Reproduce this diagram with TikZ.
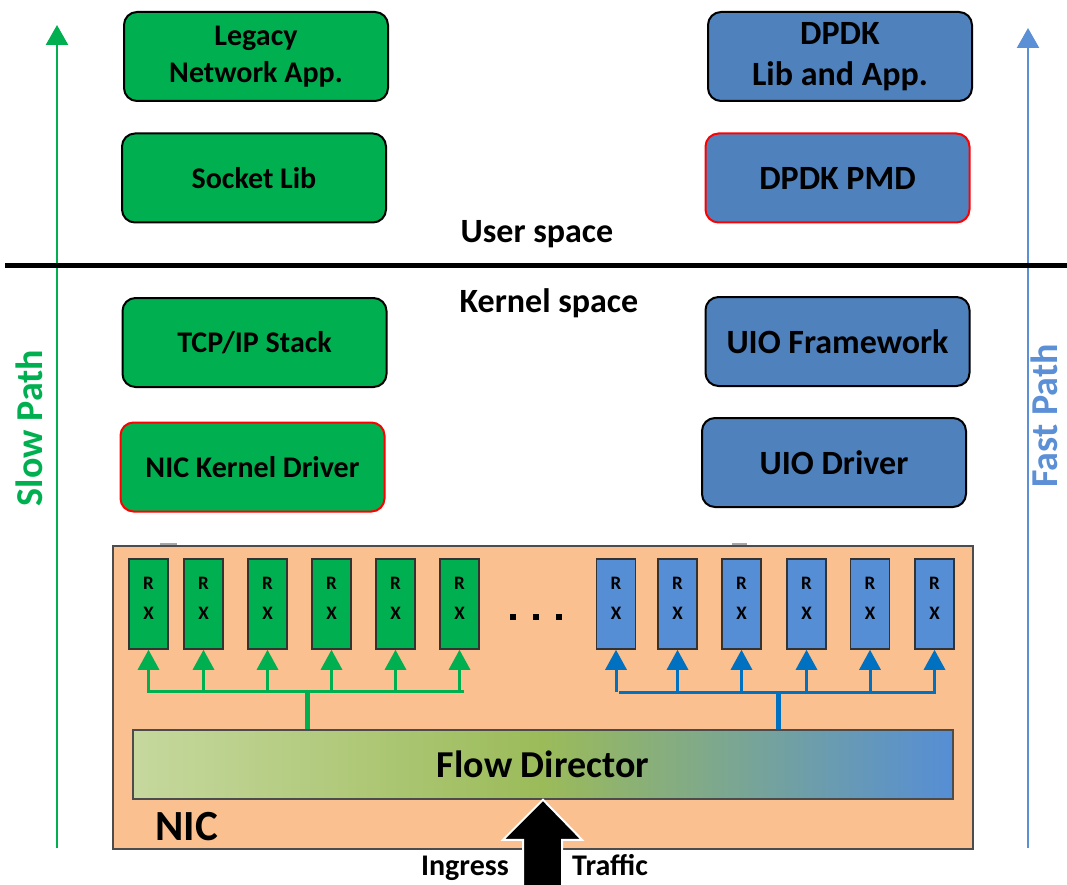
\documentclass[tikz,border=0pt]{standalone}
\usepackage{fontspec}
\setmainfont{Carlito}
\usetikzlibrary{arrows.meta,calc}

\definecolor{boxgreen}{HTML}{00B050}
\definecolor{boxblue}{HTML}{4F81BD}
\definecolor{rxblue}{HTML}{558ED5}
\definecolor{busblue}{HTML}{0070C0}
\definecolor{nicfill}{HTML}{FAC090}
\definecolor{fastblue}{HTML}{5B8FD6}
\definecolor{fdleft}{HTML}{C6D89E}
\definecolor{fdmid}{HTML}{9BBB59}
\definecolor{fdright}{HTML}{558ED5}

\tikzset{
  layer/.style={draw=black, line width=2pt, rounded corners=13pt,
    minimum width=264pt, minimum height=89pt, inner sep=0pt,
    align=center},
  greenbox/.style={layer, fill=boxgreen, font=\fontsize{30}{37}\selectfont\bfseries},
  bluebox/.style={layer, fill=boxblue, font=\fontsize{34}{41}\selectfont\bfseries},
  hot/.style={draw=red},
  rxq/.style={draw=black!80, line width=1.5pt, minimum width=39pt,
    minimum height=90pt, inner sep=0pt},
  rxtext/.style={align=center, inner sep=0pt, font=\fontsize{19}{30}\selectfont\bfseries},
  grx/.style={rxq, fill=boxgreen},
  brx/.style={rxq, fill=rxblue},
  gbus/.style={draw=boxgreen, line width=3pt},
  bbus/.style={draw=busblue, line width=3pt},
  garrow/.style={gbus, -{Triangle[length=20pt,width=21pt]}},
  barrow/.style={bbus, -{Triangle[length=20pt,width=21pt]}},
  patharrow/.style={line width=2.5pt, -{Triangle[length=20pt,width=22pt]}},
  pathlabel/.style={rotate=90, anchor=base, inner sep=0pt,
    font=\fontsize{38}{40}\selectfont\bfseries},
  spacelabel/.style={anchor=base, inner sep=0pt, font=\fontsize{34}{40}\selectfont\bfseries},
  trafficlabel/.style={inner sep=0pt, font=\fontsize{30}{36}\selectfont\bfseries},
  dotsq/.style={fill=black, minimum size=6pt, inner sep=0pt},
}

\begin{document}
\begin{tikzpicture}[x=1pt, y=-1pt]
\useasboundingbox (0,0) rectangle (1067,885);

% side paths
\coordinate (slowbot) at (57,848);
\coordinate (slowtop) at (57,25);
\coordinate (fastbot) at (1028,848);
\coordinate (fasttop) at (1028,28);
\draw[patharrow, boxgreen] (slowbot) -- (slowtop);
\draw[patharrow, fastblue] (fastbot) -- (fasttop);
\node[pathlabel, text=boxgreen] (slow) at (42,428) {Slow Path};
\node[pathlabel, text=fastblue] (fast) at (1057,416) {Fast Path};

% user / kernel boundary
\coordinate (sepL) at (5,265);
\coordinate (sepR) at (1067,265);
\draw[line width=5pt] (sepL) -- (sepR);
\node[spacelabel] (user) at (537,243) {User space};
\node[spacelabel] (kernel) at (549,312) {Kernel space};

% software stack boxes
\node[greenbox] (legacy) at (256,56.5) {Legacy\\Network App.};
\node[greenbox] (socket) at (254,178) {Socket Lib};
\node[greenbox] (tcpip) at (254.5,342.5) {TCP/IP Stack};
\node[greenbox, hot] (kdrv) at (252.5,467) {NIC Kernel Driver};
\node[bluebox] (dpdk) at (840,56.5) {DPDK\\Lib and App.};
\node[bluebox, hot] (pmd) at (837.5,178) {DPDK PMD};
\node[bluebox] (uiofw) at (837.5,341.5) {UIO Framework};
\node[bluebox] (uiodrv) at (834,462.5) {UIO Driver};

% NIC
\node[draw=black!70, line width=1.5pt, fill=nicfill, minimum width=860pt,
      minimum height=303pt, inner sep=0pt] (nic) at (543,697.5) {};
\draw[black!35, line width=2.5pt] (160,544) -- (177,544);
\draw[black!35, line width=2.5pt] (732,544) -- (747,544);
\node[anchor=base west, inner sep=0pt, font=\fontsize{43}{46}\selectfont\bfseries]
  (niclbl) at (155,840) {NIC};

% receive queues
\foreach \n/\x in {1/148.5, 2/203.5, 3/267.5, 4/331.5, 5/395.5, 6/459.5}{
  \node[grx] (g\n) at (\x,604) {};
  \node[rxtext] at (\x,598) {R\\X};}
\foreach \n/\x in {1/616, 2/677.5, 3/741.5, 4/806.5, 5/870, 6/934.5}{
  \node[brx] (b\n) at (\x,604) {};
  \node[rxtext] at (\x,598) {R\\X};}
\node[dotsq] (dot1) at (513,617) {};
\node[dotsq] (dot2) at (536,617) {};
\node[dotsq] (dot3) at (559,617) {};

% flow director
\node[draw=black!70, line width=1.5pt, left color=fdleft, right color=fdright,
      middle color=fdmid, minimum width=820pt, minimum height=69pt,
      inner sep=0pt, font=\fontsize{38}{40}\selectfont\bfseries]
      (fd) at (543,764.5) {Flow Director};

% distribution to the queues
\coordinate (gbusL) at (147,691);
\coordinate (gbusR) at (464,691);
\coordinate (gtrunk) at (307,691);
\draw[gbus] (gbusL) -- (gbusR);
\draw[boxgreen, line width=5pt] (gtrunk) -- (gtrunk |- fd.north);
\foreach \n in {1,...,6}
  \draw[garrow] (g\n.south |- gbusL) -- (g\n.south);

\coordinate (bbusL) at (619,692);
\coordinate (bbusR) at (936,692);
\coordinate (btrunk) at (778,692);
\draw[bbus] (bbusL) -- (bbusR);
\draw[busblue, line width=5pt] (btrunk) -- (btrunk |- fd.north);
\foreach \n in {1,...,6}
  \draw[barrow] (b\n.south |- bbusL) -- (b\n.south);

% ingress traffic
\coordinate (tip) at (fd.south);
\fill[black, draw=white, line width=2pt, line join=miter]
  (tip) -- ($(tip)+(39,40)$) -- ($(tip)+(19,40)$) -- ($(tip)+(19,90)$)
  -- ($(tip)+(-20,90)$) -- ($(tip)+(-20,40)$) -- ($(tip)+(-40,40)$) -- cycle;
\node[anchor=base east, trafficlabel] (ingress) at (509,875) {Ingress};
\node[anchor=base west, trafficlabel] (traffic) at (572,875) {Traffic};
\end{tikzpicture}
\end{document}
